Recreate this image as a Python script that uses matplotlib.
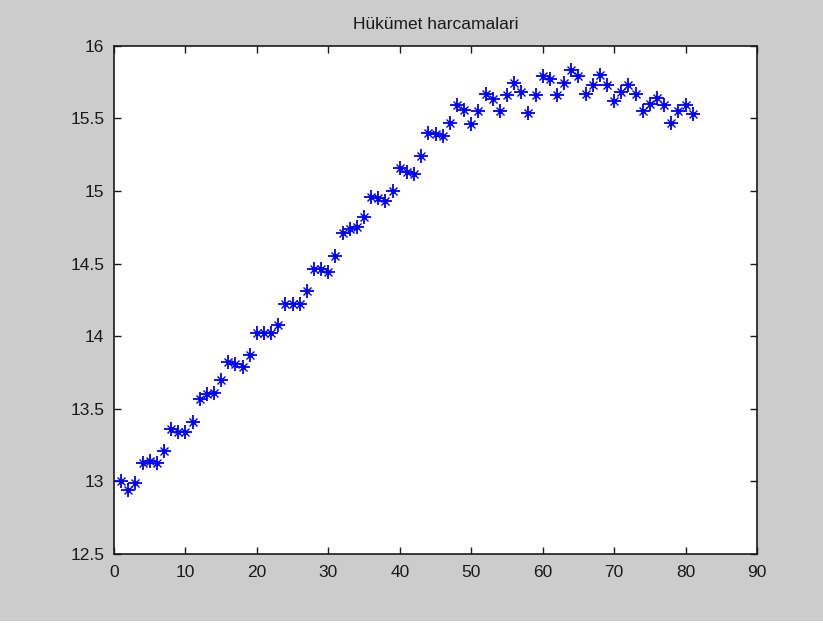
import matplotlib
matplotlib.use("Agg")
import matplotlib.pyplot as plt
from matplotlib.patches import Rectangle

title = "Hükümet harcamalari"
x_values = list(range(1, 82))
y_values = [
    13.00, 12.94, 12.99, 13.13, 13.14, 13.13, 13.21, 13.36, 13.34, 13.34,
    13.41, 13.57, 13.60, 13.61, 13.70, 13.82, 13.81, 13.79, 13.87, 14.02,
    14.02, 14.02, 14.08, 14.22, 14.22, 14.22, 14.31, 14.46, 14.46, 14.44,
    14.55, 14.71, 14.74, 14.75, 14.82, 14.96, 14.95, 14.93, 15.00, 15.16,
    15.13, 15.12, 15.24, 15.40, 15.39, 15.38, 15.47, 15.59, 15.56, 15.46,
    15.55, 15.67, 15.63, 15.55, 15.66, 15.74, 15.68, 15.54, 15.66, 15.79,
    15.77, 15.66, 15.74, 15.83, 15.79, 15.67, 15.73, 15.80, 15.73, 15.62,
    15.68, 15.73, 15.67, 15.55, 15.60, 15.64, 15.59, 15.47, 15.55, 15.59,
    15.53,
]
x_ticks = [0, 10, 20, 30, 40, 50, 60, 70, 80, 90]
y_ticks = [12.5, 13, 13.5, 14, 14.5, 15, 15.5, 16]
y_tick_labels = ["12.5", "13", "13.5", "14", "14.5", "15", "15.5", "16"]

plt.rcParams['font.family'] = ['Liberation Sans', 'DejaVu Sans']
fig = plt.figure(figsize=(8.23, 6.26), dpi=100)
fig.patch.set_facecolor('#cccccc')
fig.patches.append(Rectangle((0, 0), 1, 5 / 626, transform=fig.transFigure,
                             facecolor='white', edgecolor='none', zorder=-1))

ax = fig.add_axes([114 / 823, (626 - 554) / 626, (757 - 114) / 823, (554 - 45.7) / 626])
ax.set_facecolor('white')
# MATLAB-style asterisk: a plus with a shorter diagonal cross and a centre dot
ax.plot(x_values, y_values, linestyle='none', marker='+', color='#0000ff',
        markersize=10, markeredgewidth=1.3)
ax.plot(x_values, y_values, linestyle='none', marker='x', color='#0000ff',
        markersize=5.5, markeredgewidth=1.0)
ax.plot(x_values, y_values, linestyle='none', marker='o', color='#0000ff',
        markersize=3.5, markeredgewidth=0)
ax.set_xlim(0, 90)
ax.set_ylim(12.5, 16)
ax.set_xticks(x_ticks)
ax.set_yticks(y_ticks)
ax.set_yticklabels(y_tick_labels)
ax.tick_params(direction='in', top=True, right=True, length=5, width=1,
               labelsize=12.5, colors='#1a1a1a')
ax.tick_params(axis='y', pad=7)
ax.tick_params(axis='x', pad=8)
for s in ax.spines.values():
    s.set_linewidth(1.2)
    s.set_color('#1a1a1a')
ax.set_title(title, fontsize=12.5, color='#1a1a1a', pad=12)

fig.savefig("out.png", dpi=100, facecolor=fig.get_facecolor())
